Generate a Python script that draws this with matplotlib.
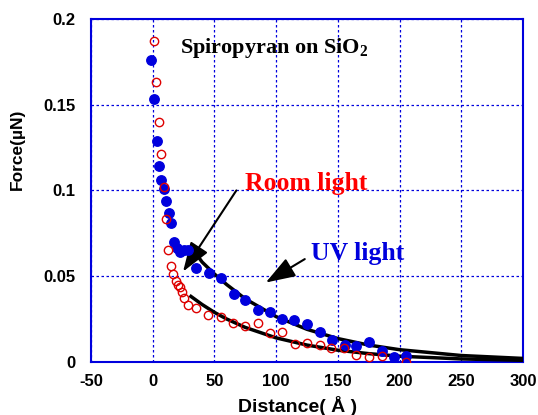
import numpy as np
import matplotlib.pyplot as plt

plt.rcParams['axes.unicode_minus'] = False
plt.rcParams['mathtext.fontset'] = 'custom'
plt.rcParams['mathtext.bf'] = 'Liberation Serif:bold'
plt.rcParams['mathtext.rm'] = 'Liberation Serif:bold'

# UV light data (filled blue)
uv_x = [-1, 1, 3.5, 5.4, 7, 9, 11, 13, 15, 17, 19.7, 22, 25, 28.6, 35, 45.4, 55,
        65.6, 75, 85, 94.7, 105, 114.4, 125, 135.3, 145.3, 155.5, 165, 175,
        185.4, 195.3, 205]
uv_y = [0.176, 0.153, 0.129, 0.114, 0.106, 0.101, 0.0936, 0.087, 0.081, 0.070,
        0.066, 0.064, 0.065, 0.065, 0.0546, 0.0516, 0.049, 0.0396, 0.036, 0.030,
        0.0288, 0.025, 0.0244, 0.022, 0.0171, 0.0127, 0.0099, 0.009, 0.0113,
        0.0064, 0.0025, 0.0035]

# Room light data (open red)
room_x = [1, 3, 5, 7, 9.2, 10.6, 12.8, 15, 16.7, 18.6, 20.5, 22.4, 24, 25, 28.6,
          34.8, 44.8, 55, 65, 75, 85, 95, 105, 115, 125, 135.3, 144.8, 155, 165,
          175, 185.4, 205.5]
room_y = [0.187, 0.163, 0.140, 0.121, 0.102, 0.083, 0.065, 0.056, 0.051, 0.047,
          0.0444, 0.0435, 0.0405, 0.037, 0.033, 0.031, 0.027, 0.026, 0.0224,
          0.0205, 0.0224, 0.0166, 0.0175, 0.0103, 0.011, 0.0094, 0.008, 0.0078,
          0.004, 0.0025, 0.003, 0.0]

# fitted curves
uv_fit_x = [32, 40, 50, 60, 75, 100, 125, 150, 175, 200, 250, 300]
uv_fit_y = [0.066, 0.0581, 0.0511, 0.0449, 0.0366, 0.0262, 0.0188, 0.0134,
            0.0096, 0.0069, 0.0035, 0.0018]
room_fit_x = [31, 40, 50, 60, 75, 100, 125, 150, 175, 200, 250, 300]
room_fit_y = [0.038, 0.0333, 0.0287, 0.0248, 0.0199, 0.0138, 0.0096, 0.0066,
              0.0046, 0.0031, 0.0015, 0.0007]

blue = '#0000dd'
sans = 'Liberation Sans'
serif = 'Liberation Serif'

fig = plt.figure(figsize=(5.38, 4.15), dpi=100)
ax = fig.add_axes([0.1691, 0.1289, 0.8030, 0.8253])

ax.plot(uv_fit_x, uv_fit_y, color='black', lw=2.5, zorder=3)
ax.plot(room_fit_x, room_fit_y, color='black', lw=2.5, zorder=3)
ax.plot(uv_x, uv_y, 'o', color=blue, ms=6.8, mec=blue, zorder=4)
ax.plot(room_x, room_y, 'o', mfc='none', mec='#dd0000', ms=6, mew=1.0, zorder=4)

ax.set_xlim(-50, 300)
ax.set_ylim(0, 0.2)
ax.set_xticks([-50, 0, 50, 100, 150, 200, 250, 300])
ax.set_yticks([0, 0.05, 0.1, 0.15, 0.2])
ax.set_yticklabels(['0', '0.05', '0.1', '0.15', '0.2'])
ax.grid(True, color=blue, ls=(0, (2, 2)), lw=0.9)
ax.tick_params(axis='y', length=0, pad=11)
ax.tick_params(axis='x', length=0, pad=9)
for lab in ax.get_xticklabels() + ax.get_yticklabels():
    lab.set_fontfamily(sans)
    lab.set_fontweight('bold')
    lab.set_fontsize(12)
for s in ax.spines.values():
    s.set_color(blue)
    s.set_linewidth(1.5)

ax.set_xlabel('Distance( Å )', family=sans, weight='bold', fontsize=14)
ax.xaxis.set_label_coords(0.479, -0.1)
ax.set_ylabel('Force(µN)', family=sans, weight='bold', fontsize=12.5)
ax.yaxis.set_label_coords(-0.153, 0.62)

ax.text(22, 0.183, 'Spiropyran on SiO$_\\mathbf{2}$', family=serif, weight='bold',
        fontsize=16, va='center', ha='left')

arrow = dict(arrowstyle='-|>,head_length=1.3,head_width=0.45', color='black',
             lw=1.5, mutation_scale=14, shrinkA=0, shrinkB=0)
ax.annotate('', xy=(24.6, 0.0525), xytext=(67.8, 0.0999), arrowprops=arrow)
ax.annotate('', xy=(91.6, 0.0461), xytext=(123.2, 0.0598), arrowprops=arrow)
ax.text(75, 0.104, 'Room light', color='#ff0000', family=serif, weight='bold',
        fontsize=18.5, va='center', ha='left')
ax.text(128, 0.063, 'UV light', color=blue, family=serif, weight='bold',
        fontsize=18.5, va='center', ha='left')

fig.savefig('out.png', dpi=100)
